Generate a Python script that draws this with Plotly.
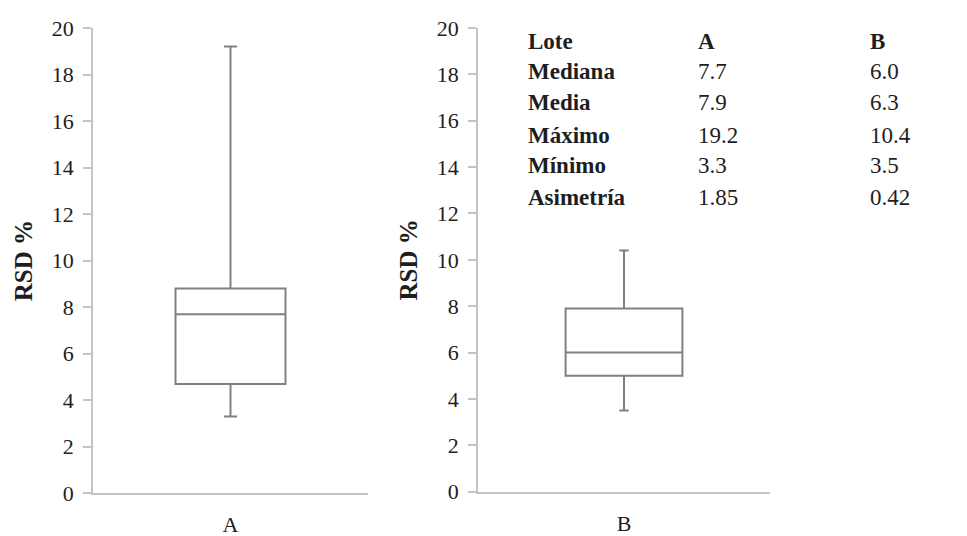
import plotly.graph_objects as go

# Box-plot summary statistics per lot (RSD %)
lots = ["A", "B"]
q1_vals = [4.7, 5.0]
median_vals = [7.7, 6.0]
q3_vals = [8.8, 7.9]
min_vals = [3.3, 3.5]
max_vals = [19.2, 10.4]
mean_vals = [7.9, 6.3]
skew_vals = [1.85, 0.42]

row_labels = ["Mediana", "Media", "Máximo", "Mínimo", "Asimetría"]
y_ticks = [0, 2, 4, 6, 8, 10, 12, 14, 16, 18, 20]

W, H = 967, 536
SERIF = "'Liberation Serif', 'Times New Roman', Times, serif"
TEXT = "#1e1e1e"
AXIS = "#c4c4c4"
BOX = "#808080"

fig = go.Figure()
cap_widths = [0.12, 0.08]
for i, lot in enumerate(lots):
    suffix = "" if i == 0 else "2"
    fig.add_trace(go.Box(
        x=[lot], q1=[q1_vals[i]], median=[median_vals[i]], q3=[q3_vals[i]],
        lowerfence=[min_vals[i]], upperfence=[max_vals[i]],
        width=0.4, whiskerwidth=cap_widths[i],
        fillcolor="white", line=dict(color=BOX, width=2),
        boxpoints=False, showlegend=False, hoverinfo="skip",
        xaxis="x" + suffix, yaxis="y" + suffix,
    ))

def px_x(p):
    return p / W

def px_y(p):
    return 1 - p / H

x_domains = [[px_x(93), px_x(368)], [px_x(478), px_x(770)]]
y_domains = [[px_y(493.3), px_y(28)], [px_y(491.7), px_y(28)]]

for i in range(2):
    suffix = "" if i == 0 else "2"
    fig.update_layout(**{
        "xaxis" + suffix: dict(
            domain=x_domains[i], type="category", range=[-0.5, 0.5],
            anchor="y" + suffix, showline=True, linecolor=AXIS, linewidth=1.5,
            ticks="", showgrid=False, zeroline=False, ticklabelstandoff=11,
            automargin=False,
            tickfont=dict(family=SERIF, size=22, color=TEXT), fixedrange=True,
        ),
        "yaxis" + suffix: dict(
            domain=y_domains[i], range=[0, 20], anchor="x" + suffix,
            tickvals=y_ticks, showline=True, linecolor=AXIS, linewidth=1.5,
            ticks="outside", ticklen=8, tickcolor=AXIS, tickwidth=1.5,
            showgrid=False, zeroline=False, ticklabelstandoff=5,
            automargin=False,
            tickfont=dict(family=SERIF, size=22, color=TEXT),
            title=dict(text="<b>RSD %</b>", standoff=12,
                       font=dict(family=SERIF, size=25, color=TEXT)),
            fixedrange=True,
        ),
    })
    # short tick below the origin of each category axis
    fig.add_shape(
        type="line", xref="x" + suffix + " domain", yref="y" + suffix,
        x0=0, x1=0, ysizemode="pixel", yanchor=0, y0=0, y1=-7,
        line=dict(color=AXIS, width=1.5),
    )

# Summary table drawn as text over the second panel
col_x = [526, 696, 868]
row_y = [41.5, 72, 103, 135, 166, 197]
header = ["<b>Lote</b>"] + ["<b>%s</b>" % l for l in lots]
rows = [
    [f"{v:.1f}" for v in median_vals],
    [f"{v:.1f}" for v in mean_vals],
    [f"{v:.1f}" for v in max_vals],
    [f"{v:.1f}" for v in min_vals],
    [f"{v:.2f}" for v in skew_vals],
]
table = [header] + [["<b>%s</b>" % lab] + vals for lab, vals in zip(row_labels, rows)]
for r, cells in enumerate(table):
    for c, txt in enumerate(cells):
        fig.add_annotation(
            x=px_x(col_x[c]), y=px_y(row_y[r]), xref="paper", yref="paper",
            text=txt, showarrow=False, xanchor="left", yanchor="middle",
            font=dict(family=SERIF, size=23, color=TEXT),
        )

fig.update_layout(
    width=W, height=H, margin=dict(l=0, r=0, t=0, b=0),
    paper_bgcolor="white", plot_bgcolor="white",
)

fig.write_html("out.html", config={"displayModeBar": False})
